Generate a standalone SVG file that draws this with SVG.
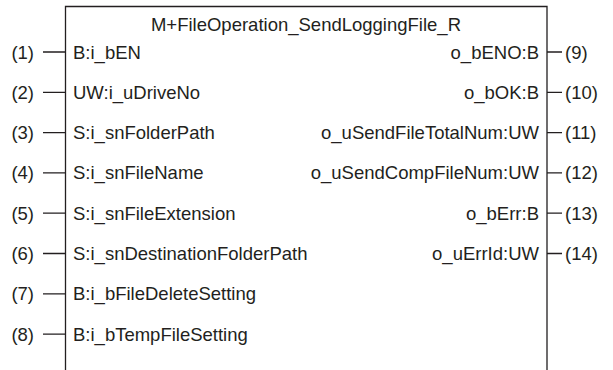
<svg xmlns="http://www.w3.org/2000/svg" width="613" height="370" viewBox="0 0 613 370">
<style>
text{font-family:"Liberation Sans",Arial,sans-serif;font-size:18.5px;fill:#231f20}
.r{text-anchor:end}
.ln{stroke:#231f20;stroke-width:1.3;fill:none}
</style>
<rect width="613" height="370" fill="#fff"/>
<g id="block">
<path class="ln" d="M65.5,370 V6.5 H547 V370"/>
<text x="306" y="31" text-anchor="middle">M+FileOperation_SendLoggingFile_R</text>
</g>
<g id="connectors">
<path class="ln" d="M43,52H65.5M43,92.3H65.5M43,132.6H65.5M43,172.9H65.5M43,213.2H65.5M43,253.5H65.5M43,293.8H65.5M43,334.1H65.5"/>
<path class="ln" d="M547,52H562M547,92.3H562M547,132.6H562M547,172.9H562M547,213.2H562M547,253.5H562"/>
</g>
<g id="in1"><text class="r" x="34" y="58.5">(1)</text><text x="73" y="58.5">B:i_bEN</text></g>
<g id="in2"><text class="r" x="34" y="98.8">(2)</text><text x="73" y="98.8">UW:i_uDriveNo</text></g>
<g id="in3"><text class="r" x="34" y="139.1">(3)</text><text x="73" y="139.1">S:i_snFolderPath</text></g>
<g id="in4"><text class="r" x="34" y="179.4">(4)</text><text x="73" y="179.4">S:i_snFileName</text></g>
<g id="in5"><text class="r" x="34" y="219.7">(5)</text><text x="73" y="219.7">S:i_snFileExtension</text></g>
<g id="in6"><text class="r" x="34" y="260">(6)</text><text x="73" y="260">S:i_snDestinationFolderPath</text></g>
<g id="in7"><text class="r" x="34" y="300.3">(7)</text><text x="73" y="300.3">B:i_bFileDeleteSetting</text></g>
<g id="in8"><text class="r" x="34" y="340.6">(8)</text><text x="73" y="340.6">B:i_bTempFileSetting</text></g>
<g id="out9"><text class="r" x="539" y="58.5">o_bENO:B</text><text x="565" y="58.5">(9)</text></g>
<g id="out10"><text class="r" x="539" y="98.8">o_bOK:B</text><text x="565" y="98.8">(10)</text></g>
<g id="out11"><text class="r" x="539" y="139.1">o_uSendFileTotalNum:UW</text><text x="565" y="139.1">(11)</text></g>
<g id="out12"><text class="r" x="539" y="179.4">o_uSendCompFileNum:UW</text><text x="565" y="179.4">(12)</text></g>
<g id="out13"><text class="r" x="539" y="219.7">o_bErr:B</text><text x="565" y="219.7">(13)</text></g>
<g id="out14"><text class="r" x="539" y="260">o_uErrId:UW</text><text x="565" y="260">(14)</text></g>
</svg>
